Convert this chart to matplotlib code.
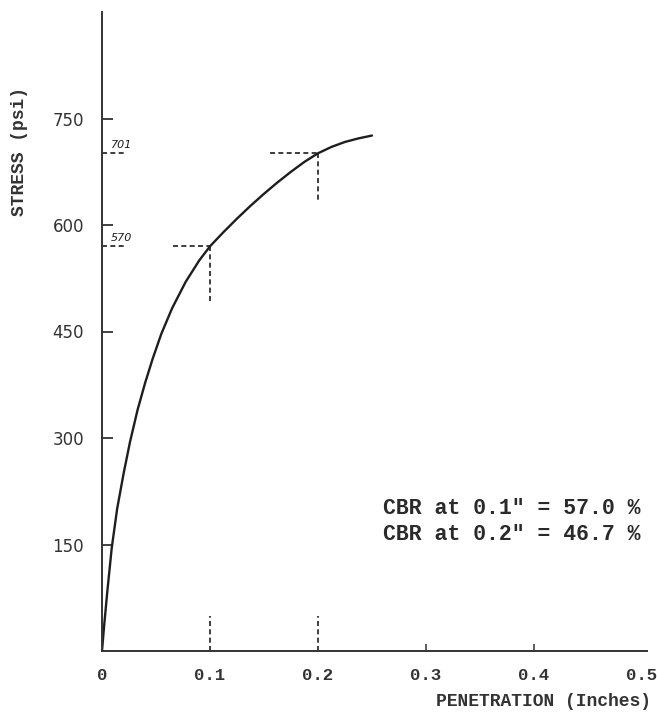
import numpy as np
import matplotlib.pyplot as plt

# stress-penetration curve
penetration = [0.0, 0.002, 0.005, 0.009, 0.014, 0.02, 0.026, 0.033, 0.04,
               0.047, 0.055, 0.065, 0.0775, 0.09, 0.1, 0.1125, 0.125, 0.1375,
               0.15, 0.1625, 0.175, 0.1875, 0.2, 0.2125, 0.225, 0.2375, 0.25]
stress = [0, 36, 85, 145, 200, 250, 295, 340, 378,
          412, 447, 483, 520, 550, 570, 590, 609, 627,
          644, 660, 675, 689, 701, 710, 717, 722, 726]

x_ticks = [0, 0.1, 0.2, 0.3, 0.4, 0.5]
x_ticklabels = ['0', '0.1', '0.2', '0.3', '0.4', '0.5']
y_ticks = [150, 300, 450, 600, 750]

# readings at 0.1" and 0.2"
read_pen = [0.1, 0.2]
read_stress = [570, 701]
read_labels = ['570', '701']
cbr_lines = ['CBR at 0.1" = 57.0 %', 'CBR at 0.2" = 46.7 %']

ink = '#1e1e1e'
mono = ['Liberation Mono', 'DejaVu Sans Mono']

fig = plt.figure(figsize=(6.57, 7.17), dpi=100)
ax = fig.add_axes([102 / 657, 66 / 717, 545.4 / 657, 639 / 717])

ax.plot(penetration, stress, color=ink, lw=1.7, solid_capstyle='round',
        solid_joinstyle='round')

dash = dict(color=ink, lw=1.2, ls=(0, (3, 2)))
h_start = [0.066, 0.156]
v_end = [490, 635]
for p, s, lab, h0, v1 in zip(read_pen, read_stress, read_labels, h_start, v_end):
    ax.plot([h0, p], [s, s], **dash)
    ax.plot([p, p], [s, v1], **dash)
    ax.plot([0, 0.023], [s, s], **dash)
    ax.text(0.008, s + 4, lab, fontsize=8, style='italic', color=ink,
            va='bottom', ha='left', family='DejaVu Sans')
    ax.plot([p, p], [0, 50], **dash)

ax.set_xlim(0, 0.505)
ax.set_ylim(0, 900)
ax.spines['top'].set_visible(False)
ax.spines['right'].set_visible(False)
for sp in ('left', 'bottom'):
    ax.spines[sp].set_color('#333333')
    ax.spines[sp].set_linewidth(1.4)

ax.set_yticks(y_ticks)
ax.set_yticklabels([str(v) for v in y_ticks], fontsize=12, color='#333333')
ax.tick_params(axis='y', direction='in', length=8, width=1.3, color='#333333', pad=13)

ax.set_xticks(x_ticks)
ax.set_xticklabels(x_ticklabels, fontsize=12.5, family=mono, fontweight='bold',
                   color='#333333')
ax.tick_params(axis='x', direction='in', length=5, width=1.1, color='#333333', pad=12)
for t, v in zip(ax.xaxis.get_major_ticks(), x_ticks):
    if v not in (0.3, 0.4):
        t.tick1line.set_visible(False)

fig.text(543 / 657, 1 - 702 / 717, 'PENETRATION (Inches)', fontsize=13,
         family=mono, fontweight='bold', color='#333333', ha='center', va='center')
fig.text(20 / 657, 1 - 152 / 717, 'STRESS (psi)', fontsize=13, rotation=90,
         family=mono, fontweight='bold', color='#333333', ha='center', va='center')

for i, line in enumerate(cbr_lines):
    fig.text(383 / 657, 1 - (508 + 27 * i) / 717, line, fontsize=15.5,
             family=mono, fontweight='bold', color='#2a2a2a', ha='left', va='center')

fig.savefig('out.png', dpi=100, facecolor='white')
